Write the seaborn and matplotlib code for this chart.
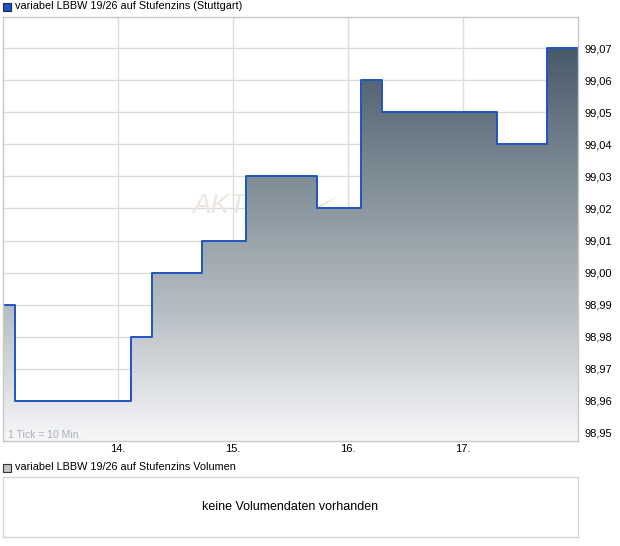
import numpy as np
import pandas as pd
import matplotlib
matplotlib.use("Agg")
import matplotlib.pyplot as plt
from matplotlib.patches import Rectangle, Polygon
from matplotlib.colors import LinearSegmentedColormap
import seaborn as sns

# ---- data ----
days = [13.0, 13.104, 14.113, 14.296, 14.730, 15.113, 15.730, 16.113, 16.296, 17.296, 17.730, 18.0]
prices = [98.99, 98.96, 98.98, 99.00, 99.01, 99.03, 99.02, 99.06, 99.05, 99.04, 99.07, 99.07]
y_ticks = [98.95, 98.96, 98.97, 98.98, 98.99, 99.00, 99.01, 99.02, 99.03, 99.04, 99.05, 99.06, 99.07]
x_ticks = [14, 15, 16, 17]
x_labels = ["14.", "15.", "16.", "17."]
title_main = "variabel LBBW 19/26 auf Stufenzins (Stuttgart)"
title_vol = "variabel LBBW 19/26 auf Stufenzins Volumen"
no_vol = "keine Volumendaten vorhanden"
tick_note = "1 Tick = 10 Min."
watermark = "AKTIEN"

df = pd.DataFrame({"day": days, "price": prices})

sns.set_theme(style="white")
plt.rcParams["font.family"] = ["Liberation Sans", "DejaVu Sans"]

W, H = 620, 546
fig = plt.figure(figsize=(W / 100, H / 100), dpi=100)

def ax_rect(l, t, r, b):
    return [l / W, 1 - b / H, (r - l) / W, (b - t) / H]

AX_L, AX_T, AX_R, AX_B = 3, 17, 578, 441
ax = fig.add_axes(ax_rect(AX_L, AX_T, AX_R, AX_B))
xmin, xmax = 13.0, 18.0
ymin, ymax = 98.9475, 99.0797
ax.set_xlim(xmin, xmax)
ax.set_ylim(ymin, ymax)

def afrac(px, py):
    return ((px - AX_L) / (AX_R - AX_L), (AX_B - py) / (AX_B - AX_T))

# grid
grid_c = "#dcdcdc"
for yt in y_ticks:
    ax.axhline(yt, color=grid_c, lw=1, zorder=0)
for xt in x_ticks:
    ax.axvline(xt, color=grid_c, lw=1, zorder=0)

# watermark
wx, wy = afrac(192, 213)
ax.text(wx, wy, watermark, transform=ax.transAxes, fontsize=20, fontstyle="italic",
        color="#ebe6e0", zorder=0.5, ha="left", va="baseline")
sw = Polygon([afrac(317, 209), afrac(341, 195), afrac(318, 206)], closed=True,
             transform=ax.transAxes, facecolor="#e6e0da", edgecolor="none", zorder=0.5)
ax.add_patch(sw)

# gradient fill under step line
poly = ax.fill_between(df["day"], df["price"], ymin, step="post",
                       facecolor="none", edgecolor="none", zorder=1)
cmap = LinearSegmentedColormap.from_list("g", ["#48596a", "#7f8d96", "#b7bec3", "#f7f7f9"])
grad = np.linspace(0, 1, 256).reshape(-1, 1)
im = ax.imshow(grad, cmap=cmap, aspect="auto", extent=[xmin, xmax, ymin, 99.07],
               origin="upper", zorder=1, interpolation="bicubic")
im.set_clip_path(poly.get_paths()[0], transform=ax.transData)

sns.lineplot(data=df, x="day", y="price", ax=ax, drawstyle="steps-post",
             color="#1f55c0", lw=1.4, zorder=3, legend=False)

ax.set_xlim(xmin, xmax)
ax.set_ylim(ymin, ymax)
ax.set_xlabel("")
ax.set_ylabel("")
ax.set_xticks(x_ticks)
ax.set_xticklabels(x_labels)
ax.set_yticks(y_ticks)
ax.set_yticklabels([f"{v:.2f}".replace(".", ",") for v in y_ticks])
ax.yaxis.tick_right()
ax.tick_params(axis="both", length=0, labelsize=8, colors="#000000")
ax.tick_params(axis="y", pad=5)
ax.tick_params(axis="x", pad=2)
for s in ax.spines.values():
    s.set_color("#c8c8c8")
    s.set_linewidth(1)
    s.set_zorder(4)

ax.text(5 / 575, 1 / 424, tick_note, transform=ax.transAxes, fontsize=7.5,
        color="#a9b0b8", ha="left", va="bottom", zorder=5)

# legend header squares & texts
fig.patches.append(Rectangle((3 / W, 1 - 10.5 / H), 8 / W, 8 / H, transform=fig.transFigure,
                             facecolor="#1f55c0", edgecolor="#1a2a50", lw=0.8))
fig.text(15 / W, 1 - 6 / H, title_main, fontsize=7.85, va="center", ha="left", color="#000000")

fig.patches.append(Rectangle((3 / W, 1 - 471.5 / H), 8 / W, 8 / H, transform=fig.transFigure,
                             facecolor="#c4c4c4", edgecolor="#333333", lw=0.8))
fig.text(15 / W, 1 - 467.5 / H, title_vol, fontsize=7.85, va="center", ha="left", color="#000000")

# volume box
axv = fig.add_axes(ax_rect(3, 477, 578, 537))
axv.set_xticks([])
axv.set_yticks([])
for s in axv.spines.values():
    s.set_color("#d4d4d4")
    s.set_linewidth(1)
axv.text(0.5, 0.5, no_vol, transform=axv.transAxes, ha="center", va="center",
         fontsize=9, color="#000000")

fig.savefig("out.png", dpi=100)
